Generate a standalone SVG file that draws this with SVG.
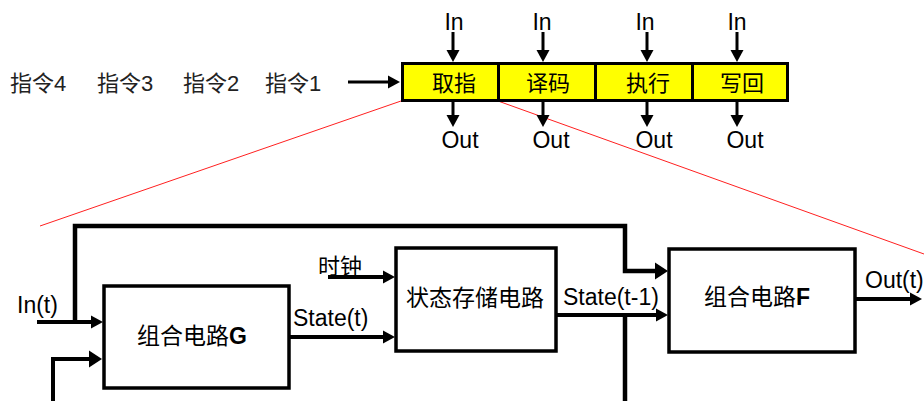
<svg xmlns="http://www.w3.org/2000/svg" width="924" height="401" viewBox="0 0 924 401">
<defs>
<style>
text{font-family:"Liberation Sans","Noto Sans CJK SC",sans-serif;fill:#000}
.cj{font-size:22px}
.lab{font-size:23px}
.big{font-size:23px}
.ins{font-size:22px;fill:#222}
.mid{text-anchor:middle}
.cell{fill:#ffff00;stroke:#000;stroke-width:3}
.box{fill:#fff;stroke:#000;stroke-width:3.5}
.ln{fill:none;stroke:#000;stroke-width:3}
.ln4{fill:none;stroke:#000;stroke-width:4}
.fb{fill:none;stroke:#000;stroke-width:4.5}
.red{fill:none;stroke:#ff2020;stroke-width:1}
</style>
<marker id="ah" markerUnits="userSpaceOnUse" markerWidth="14" markerHeight="14" refX="4" refY="7" orient="auto">
<path d="M0,0.5 L12,7 L0,13.5 z" fill="#000"/>
</marker>
<marker id="ah2" markerUnits="userSpaceOnUse" markerWidth="16" markerHeight="18" refX="4" refY="9" orient="auto">
<path d="M0,0.5 L13,9 L0,17.5 z" fill="#000"/>
</marker>
</defs>
<rect width="924" height="401" fill="#fff"/>

<g id="red-lines">
<line class="red" x1="401" y1="101" x2="40" y2="226"/>
<line class="red" x1="498" y1="101" x2="924" y2="254"/>
</g>

<g id="instructions">
<text class="ins" x="10" y="91">指令4</text>
<text class="ins" x="97" y="91">指令3</text>
<text class="ins" x="183" y="91">指令2</text>
<text class="ins" x="265" y="91">指令1</text>
</g>

<g id="pipeline">
<g id="stage-fetch"><rect class="cell" x="402.5" y="63.5" width="96" height="37"/><text class="cj mid" x="454" y="91">取指</text></g>
<g id="stage-decode"><rect class="cell" x="498.5" y="63.5" width="97" height="37"/><text class="cj mid" x="548" y="91">译码</text></g>
<g id="stage-exec"><rect class="cell" x="595.5" y="63.5" width="97" height="37"/><text class="cj mid" x="648" y="91">执行</text></g>
<g id="stage-wb"><rect class="cell" x="692.5" y="63.5" width="95" height="37"/><text class="cj mid" x="742" y="91">写回</text></g>
</g>

<g id="pipeline-labels">
<text class="lab mid" x="454" y="30">In</text>
<text class="lab mid" x="542" y="30">In</text>
<text class="lab mid" x="645" y="30">In</text>
<text class="lab mid" x="737" y="30">In</text>
<text class="lab mid" x="460" y="148">Out</text>
<text class="lab mid" x="551" y="148">Out</text>
<text class="lab mid" x="654" y="148">Out</text>
<text class="lab mid" x="745" y="148">Out</text>
</g>

<g id="box-G"><rect class="box" x="104" y="286" width="185" height="102"/><text class="big mid" x="192" y="344">组合电路<tspan font-weight="bold">G</tspan></text></g>
<g id="box-state"><rect class="box" x="396" y="248" width="160" height="103"/><text class="big mid" x="475" y="306">状态存储电路</text></g>
<g id="box-F"><rect class="box" x="669" y="249" width="186" height="103"/><text class="big mid" x="757" y="305">组合电路<tspan font-weight="bold">F</tspan></text></g>

<g id="bottom-labels">
<text class="lab" x="17" y="313">In(t)</text>
<text class="lab" x="293" y="326">State(t)</text>
<text class="cj" x="318" y="274">时钟</text>
<text class="lab" x="563" y="305">State(t-1)</text>
<text class="lab" x="865" y="288">Out(t)</text>
</g>

<g id="connectors">
<path class="ln" d="M348,82 H392" marker-end="url(#ah)"/>
<path class="ln" d="M453,32 V54" marker-end="url(#ah)"/>
<path class="ln" d="M543,32 V54" marker-end="url(#ah)"/>
<path class="ln" d="M647,32 V54" marker-end="url(#ah)"/>
<path class="ln" d="M737,32 V54" marker-end="url(#ah)"/>
<path class="ln" d="M453,102 V119" marker-end="url(#ah)"/>
<path class="ln" d="M543,102 V119" marker-end="url(#ah)"/>
<path class="ln" d="M647,102 V119" marker-end="url(#ah)"/>
<path class="ln" d="M737,102 V119" marker-end="url(#ah)"/>

<path class="fb" d="M75,324 V226 H625 V271 H659" marker-end="url(#ah2)"/>
<path class="ln4" d="M37,322 H95" marker-end="url(#ah)"/>
<path class="ln4" d="M53,401 V359 H93" marker-end="url(#ah2)"/>
<path class="ln4" d="M290,337 H387" marker-end="url(#ah)"/>
<path class="ln4" d="M328,277 H387" marker-end="url(#ah)"/>
<path class="ln4" d="M556,315 H660" marker-end="url(#ah)"/>
<path class="fb" d="M625,313 V401"/>
<path class="ln4" d="M855,299 H914" marker-end="url(#ah)"/>
</g>
</svg>
